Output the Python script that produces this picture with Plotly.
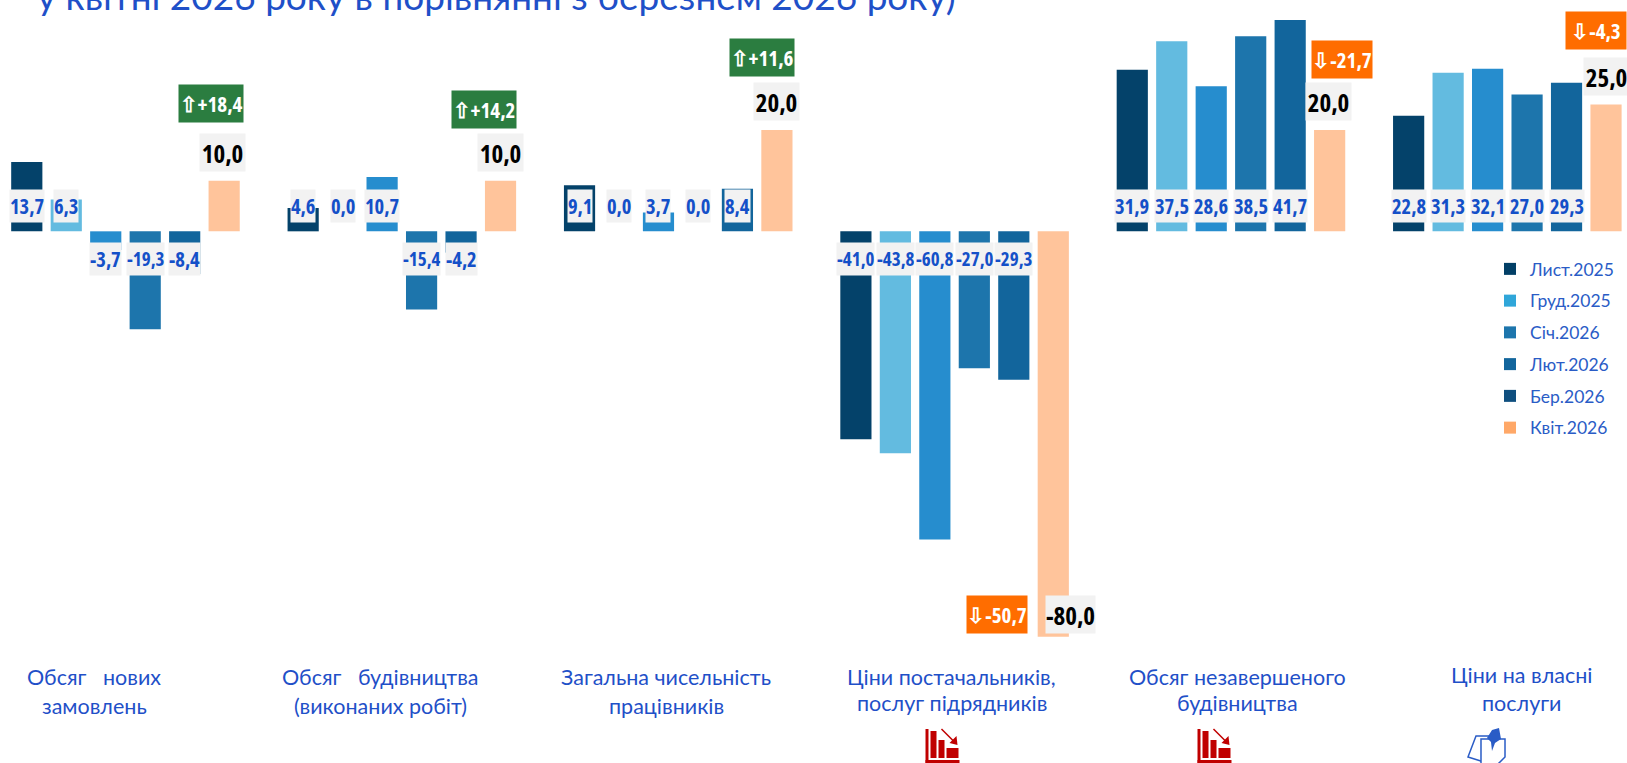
import plotly.graph_objects as go

# ---- data ----
categories = [
    "Обсяг  нових<br>замовлень",
    "Обсяг  будівництва<br>(виконаних робіт)",
    "Загальна чисельність<br>працівників",
    "Ціни постачальників,<br>послуг підрядників",
    "Обсяг незавершеного<br>будівництва",
    "Ціни на власні<br>послуги",
]
periods = ["Лист.2025", "Груд.2025", "Січ.2026", "Лют.2026", "Бер.2026", "Квіт.2026"]
nov_2025 = [13.7, 4.6, 9.1, -41.0, 31.9, 22.8]
dec_2025 = [6.3, 0.0, 0.0, -43.8, 37.5, 31.3]
jan_2026 = [-3.7, 10.7, 3.7, -60.8, 28.6, 32.1]
feb_2026 = [-19.3, -15.4, 0.0, -27.0, 38.5, 27.0]
mar_2026 = [-8.4, -4.2, 8.4, -29.3, 41.7, 29.3]
apr_2026 = [10.0, 10.0, 20.0, -80.0, 20.0, 25.0]
change = [18.4, 14.2, 11.6, -50.7, -21.7, -4.3]
title_text = "у квітні 2026 року в порівнянні з березнем 2026 року)"

# ---- styles ----
W, H = 1627, 763
bar_colors = ["#04426a", "#63bbe0", "#268dce", "#1d75ac", "#12659c", "#ffc49b"]
legend_colors = ["#023f66", "#2fa6d9", "#1d75ac", "#12659c", "#0f4f7f", "#ffa868"]
BLUE = "#1f50c8"
NARROW = "Open Sans"
SANS = "Lato, sans-serif"
BARGAP = 0.143
BARGROUPGAP = 0.21
pitch = (1 - BARGAP) / 6

series = [nov_2025, dec_2025, jan_2026, feb_2026, mar_2026, apr_2026]
names = [c.replace("<br>", " ") for c in categories]

fig = go.Figure()
for p, vals, col in zip(periods, series, bar_colors):
    fig.add_trace(go.Bar(name=p, x=names, y=vals, marker=dict(color=col, line=dict(width=0)),
                         showlegend=False, legendgroup=p, hoverinfo="x+y+name"))
for p, col in zip(periods, legend_colors):
    fig.add_trace(go.Scatter(name=p, x=[None], y=[None], mode="markers", legendgroup=p,
                             marker=dict(symbol="square", size=12, color=col)))


def fmt(v):
    return f"{v:.1f}".replace(".", ",")


def narrow(t):
    return f'<span style="font-stretch:condensed">{t}</span>'


ann = []
# monthly value labels (grey boxes near the zero line)
for j, vals in enumerate(series[:5]):
    for i, v in enumerate(vals):
        s = fmt(v)
        ann.append(dict(x=i + (j - 2.5) * pitch, y=0, xref="x", yref="y", text=narrow(s),
                        showarrow=False, yanchor="middle", xanchor="center", height=32,
                        yshift=25 if v >= 0 else -28, bgcolor="#f2f2f2", borderpad=0,
                        font=dict(family=NARROW, size=19 if len(s) >= 5 else 20.5, weight=700, color="#1450c8")))
# April labels
kv_xshift = [-2, 0, 0, 17, -1, 0]
kv_yshift = [28, 28, 28, 22, 28, 28]
for i, v in enumerate(apr_2026):
    ann.append(dict(x=i + 2.5 * pitch, y=v, xref="x", yref="y", text=narrow(fmt(v)),
                    showarrow=False, yanchor="middle", xanchor="center", width=45 if v > 0 else 49, height=37,
                    xshift=kv_xshift[i], yshift=kv_yshift[i], bgcolor="#f2f2f2", borderpad=0,
                    font=dict(family=NARROW, size=25, weight=700, color="#000000")))
# change badges
ch_xshift = [-13, -17, -15, -56, 12, -10]
ch_yshift = [77, 71, 72, 22, 70, 74]
for i, (c, v) in enumerate(zip(change, apr_2026)):
    arrow = "⇧" if c > 0 else "⇩"
    txt = narrow(f"{arrow}{'+' if c > 0 else ''}{fmt(c)}")
    ann.append(dict(x=i + 2.5 * pitch, y=v, xref="x", yref="y", text=txt, showarrow=False,
                    yanchor="middle", xanchor="center", xshift=ch_xshift[i], yshift=ch_yshift[i],
                    width=64 if c > 0 else 60, height=37,
                    bgcolor="#2b7d40" if c > 0 else "#ff6d00", borderpad=0,
                    font=dict(family=NARROW, size=21, weight=700, color="#ffffff")))
# category captions, one annotation per line
cap_x = [94.4, 380.8, 666, 951.5, 1237.8, 1521]
cap_y = [[676.5, 705.5], [676.5, 705.5], [676.5, 705.5], [676.5, 702.5], [676.5, 702.5], [674.5, 702.5]]
for cat, cx, cy in zip(categories, cap_x, cap_y):
    for line, ly in zip(cat.split("<br>"), cy):
        ann.append(dict(x=cx / W, y=1 - ly / H, xref="paper", yref="paper",
                        text=line.replace("  ", "&nbsp;&nbsp;&nbsp;"),
                        showarrow=False, xanchor="center", yanchor="middle", borderpad=0,
                        font=dict(family=SANS, size=21.5, color=BLUE)))


# ---- decorative icons (paper coordinates from page pixels) ----
def P(x, y):
    return f"{x / W:.5f} {1 - y / H:.5f}"


def path(points, close=True):
    s = "M " + " L ".join(P(x, y) for x, y in points)
    return s + (" Z" if close else "")


def rect_path(x0, y0, x1, y1):
    return path([(x0, y0), (x1, y0), (x1, y1), (x0, y1)])


shapes = []
for ox in (925.5, 1197.5):
    oy = 729
    red = "#c00000"
    for r in [(0, 0, 3, 34), (0, 31, 34, 34), (5, 2, 11, 29), (13, 11, 19, 29), (21, 19, 33, 29)]:
        shapes.append(dict(type="path", xref="paper", yref="paper", path=rect_path(ox + r[0], oy + r[1], ox + r[2], oy + r[3]),
                           fillcolor=red, line=dict(width=0)))
    shapes.append(dict(type="path", xref="paper", yref="paper",
                       path=path([(ox + 16, oy), (ox + 29, oy + 13)], close=False), line=dict(color=red, width=1.5)))
    shapes.append(dict(type="path", xref="paper", yref="paper",
                       path=path([(ox + 24, oy + 14), (ox + 32, oy + 16), (ox + 31, oy + 7)]), fillcolor=red, line=dict(width=0)))

ox, oy = 1468, 729
doc = "#2a5cc6"
shapes.append(dict(type="path", xref="paper", yref="paper",
                   path=path([(ox + 8, oy + 7), (ox + 22, oy + 7), (ox + 16, oy + 33), (ox, oy + 28)]),
                   line=dict(color=doc, width=1.5), fillcolor="#ffffff"))
shapes.append(dict(type="path", xref="paper", yref="paper",
                   path=path([(ox + 13, oy + 10), (ox + 37, oy + 10), (ox + 37, oy + 28), (ox + 29, oy + 36), (ox + 13, oy + 36)]),
                   line=dict(color=doc, width=1.5), fillcolor="#ffffff"))
shapes.append(dict(type="path", xref="paper", yref="paper",
                   path=path([(ox + 24, oy + 1), (ox + 31, oy - 1), (ox + 33, oy + 10), (ox + 27, oy + 14), (ox + 24, oy + 22), (ox + 23, oy + 13), (ox + 19, oy + 9)]),
                   fillcolor=doc, line=dict(width=0)))

fig.update_layout(
    width=W, height=H, autosize=False,
    margin=dict(l=0, r=0, t=0, b=0, pad=0, autoexpand=False),
    paper_bgcolor="#ffffff", plot_bgcolor="#ffffff",
    barmode="group", bargap=BARGAP, bargroupgap=BARGROUPGAP,
    xaxis=dict(visible=False, range=[-0.454, 5.433], type="category", categoryorder="array", categoryarray=names),
    yaxis=dict(visible=False, range=[-104.9, 45.64], zeroline=False, showgrid=False),
    title=dict(text=title_text, x=37 / W, xanchor="left", y=1 - 9.5 / H, yanchor="bottom",
               font=dict(family=SANS, size=37, color=BLUE)),
    legend=dict(x=1490 / W, xanchor="left", y=1 - 251 / H, yanchor="top", tracegroupgap=6,
                bgcolor="rgba(0,0,0,0)", font=dict(family=SANS, size=17.5, color="#2a5cc6"),
                traceorder="grouped", itemclick=False, itemdoubleclick=False),
    annotations=ann,
    shapes=shapes,
    showlegend=True,
)

fig.write_html("out.html", config={"displayModeBar": False},
               post_script="document.body.style.margin='0';document.body.style.overflow='hidden';")
